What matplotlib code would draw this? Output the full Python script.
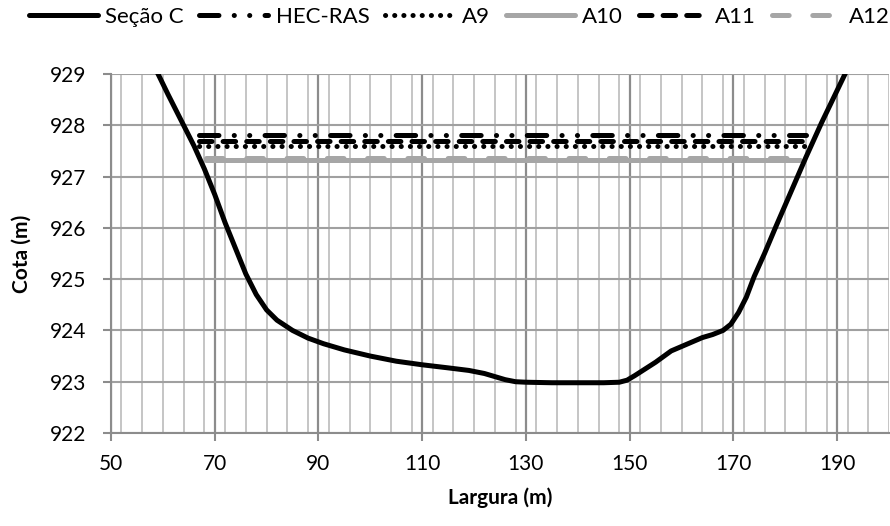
import matplotlib
matplotlib.use("Agg")
import matplotlib.pyplot as plt
from matplotlib.ticker import MultipleLocator

plt.rcParams['font.family'] = ['Lato', 'DejaVu Sans']
plt.rcParams['lines.scale_dashes'] = False

# Cross-section profile (Seção C)
largura = [58.5, 61, 64, 66, 68, 70, 72, 74, 76, 78, 80, 82, 85, 88, 91, 95, 100,
           105, 110, 115, 119, 122, 124, 126, 128, 130, 135, 140, 145, 148, 149.5,
           151, 153, 155, 158, 161, 164, 166, 168, 169.5, 171, 172.5, 174, 176,
           178, 181, 184, 187, 190, 192]
cota = [929.12, 928.6, 928.0, 927.6, 927.15, 926.65, 926.1, 925.6, 925.1, 924.7,
        924.4, 924.2, 924.0, 923.85, 923.74, 923.62, 923.5, 923.4, 923.33,
        923.27, 923.22, 923.16, 923.1, 923.04, 923.0, 922.99, 922.98, 922.98,
        922.98, 922.99, 923.03, 923.12, 923.25, 923.38, 923.6, 923.73, 923.86,
        923.92, 924.0, 924.12, 924.35, 924.65, 925.05, 925.5, 925.98, 926.68,
        927.38, 928.05, 928.68, 929.1]

# Water surface levels (start / end of each level line)
hecras_x = [67.0, 184.0]
hecras_y = [927.81, 927.81]
a9_x = [67.0, 184.0]
a9_y = [927.59, 927.59]
a10_x = [68.3, 182.8]
a10_y = [927.32, 927.32]
a11_x = [67.0, 184.0]
a11_y = [927.70, 927.70]
a12_x = [68.3, 182.8]
a12_y = [927.36, 927.36]

x_ticks = [50, 70, 90, 110, 130, 150, 170, 190]
y_ticks = [922, 923, 924, 925, 926, 927, 928, 929]

fig = plt.figure(figsize=(8.9, 5.26), dpi=100)
ax = fig.add_axes([111 / 890, 1 - 433 / 526, (889 - 111) / 890, (433 - 74) / 526])

gray = '#a6a6a6'
lw = 3.6

ax.plot(largura, cota, color='black', lw=lw, solid_capstyle='round',
        solid_joinstyle='round', label='Seção C', zorder=5)
ax.plot(hecras_x, hecras_y, color='black', lw=lw, dash_capstyle='round',
        dashes=(14, 11, 0.1, 11, 0.1, 11), label='HEC-RAS', zorder=4)
ax.plot(a9_x, a9_y, color='black', lw=lw, dash_capstyle='round',
        dashes=(0.1, 6.5), label='A9', zorder=4)
ax.plot(a10_x, a10_y, color=gray, lw=lw, solid_capstyle='round', label='A10', zorder=3)
ax.plot(a11_x, a11_y, color='black', lw=lw, dash_capstyle='round',
        dashes=(9, 8), label='A11', zorder=4)
ax.plot(a12_x, a12_y, color=gray, lw=lw, dash_capstyle='round',
        dashes=(12, 17), label='A12', zorder=3)

ax.set_xlim(50, 200)
ax.set_ylim(922, 929)
ax.set_xticks(x_ticks)
ax.set_yticks(y_ticks)
ax.xaxis.set_minor_locator(MultipleLocator(4))

ax.grid(which='major', axis='x', color='#8c8c8c', lw=1.6)
ax.grid(which='minor', axis='x', color='#c0c0c0', lw=1.3)
ax.grid(which='major', axis='y', color='#a0a0a0', lw=1.5)
ax.set_axisbelow(True)

for s in ['top', 'right']:
    ax.spines[s].set_visible(False)
for s in ['left', 'bottom']:
    ax.spines[s].set_color('#8c8c8c')
    ax.spines[s].set_linewidth(1.5)

ax.tick_params(which='major', direction='out', length=6, width=1.5, color='#8c8c8c',
               labelsize=15)
ax.tick_params(axis='y', pad=12)
ax.tick_params(axis='x', pad=9)
ax.tick_params(which='minor', length=0)

ax.set_xlabel('Largura (m)', fontsize=15, fontweight='bold', labelpad=10)
ax.set_ylabel('Cota (m)', fontsize=15, fontweight='bold', labelpad=13)

fig.legend(loc='center', bbox_to_anchor=(459 / 890, 1 - 17 / 526), ncol=6,
           frameon=False, fontsize=16, handlelength=3.1, handletextpad=0.35,
           columnspacing=0.7, borderaxespad=0, borderpad=0)

fig.savefig('out.png', dpi=100)
